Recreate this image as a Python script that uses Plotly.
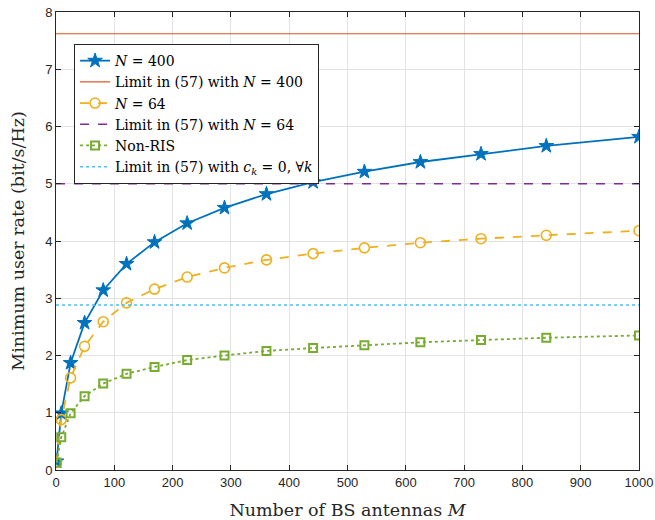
import plotly.graph_objects as go

M = [1, 9, 25, 49, 81, 121, 169, 225, 289, 361, 441, 529, 625, 729, 841, 1000]
rate_N400 = [0.15, 0.99, 1.87, 2.57, 3.14, 3.60, 3.98, 4.31, 4.58, 4.82, 5.03, 5.21, 5.38, 5.52, 5.66, 5.82]
rate_N64 = [0.13, 0.88, 1.61, 2.16, 2.59, 2.92, 3.16, 3.37, 3.53, 3.67, 3.78, 3.88, 3.97, 4.04, 4.10, 4.18]
rate_nonris = [0.13, 0.57, 0.99, 1.29, 1.51, 1.68, 1.80, 1.92, 2.00, 2.08, 2.13, 2.18, 2.23, 2.27, 2.31, 2.35]
limit_N400 = 7.62
limit_N64 = 5.0
limit_nonris = 2.88
x_range = [0, 1000]

BLUE = "#0072BD"
ORANGE = "#D95319"
YELLOW = "#EDB120"
PURPLE = "#7E2F8E"
GREEN = "#77AC30"
LBLUE = "#4DBEEE"

fig = go.Figure()
fig.add_trace(go.Scatter(x=M, y=rate_N400, mode="lines+markers", name="<i>N</i> = 400",
                         line=dict(color=BLUE, width=1.8),
                         marker=dict(symbol="star", size=11, color=BLUE, line=dict(color=BLUE, width=1))))
fig.add_trace(go.Scatter(x=x_range, y=[limit_N400, limit_N400], mode="lines", name="Limit in (57) with <i>N</i> = 400",
                         line=dict(color=ORANGE, width=1.2)))
fig.add_trace(go.Scatter(x=M, y=rate_N64, mode="lines+markers", name="<i>N</i> = 64",
                         line=dict(color=YELLOW, width=1.8, dash="dash"),
                         marker=dict(symbol="circle-open", size=10, color=YELLOW, line=dict(color=YELLOW, width=1.6))))
fig.add_trace(go.Scatter(x=x_range, y=[limit_N64, limit_N64], mode="lines", name="Limit in (57) with <i>N</i> = 64",
                         line=dict(color=PURPLE, width=1.5, dash="dash")))
fig.add_trace(go.Scatter(x=M, y=rate_nonris, mode="lines+markers", name="Non-RIS",
                         line=dict(color=GREEN, width=1.8, dash="dot"),
                         marker=dict(symbol="square-open", size=8, color=GREEN, line=dict(color=GREEN, width=2))))
fig.add_trace(go.Scatter(x=x_range, y=[limit_nonris, limit_nonris], mode="lines",
                         name="Limit in (57) with <i>c<sub>k</sub></i> = 0, ∀<i>k</i>",
                         line=dict(color=LBLUE, width=1.5, dash="dot")))

axis_common = dict(showline=True, linecolor="#262626", linewidth=1, mirror="ticks", ticks="inside",
                   ticklen=5, tickcolor="#262626", showgrid=True, gridcolor="#e3e3e3", gridwidth=1,
                   zeroline=False, automargin=False, ticklabeloverflow="allow",
                   tickfont=dict(family="Liberation Sans, Arial", size=13, color="#262626"))

title_font = dict(family="DejaVu Serif, serif", size=17.5, color="#262626")
fig.update_xaxes(range=[0, 1000], dtick=100, tick0=0,
                 title=dict(text="Number of BS antennas <i>M</i>", font=title_font, standoff=15),
                 **axis_common)
fig.update_yaxes(range=[0, 8], dtick=1, tick0=0,
                 title=dict(text="Minimum user rate (bit/s/Hz)", font=title_font, standoff=16),
                 **axis_common)

fig.update_layout(
    width=655, height=520,
    margin=dict(l=56, r=16, t=12, b=50),
    paper_bgcolor="white", plot_bgcolor="white",
    legend=dict(x=0.031, y=0.93, xanchor="left", yanchor="top",
                bgcolor="white", bordercolor="#262626", borderwidth=1,
                font=dict(family="DejaVu Serif, serif", size=14, color="#000000"),
                tracegroupgap=0, itemwidth=30),
    showlegend=True,
)

# remove the browser's default body margin so the figure fills the window exactly
fig.write_html("out.html", config={"displayModeBar": False},
               post_script="document.body.style.margin='0';document.body.style.overflow='hidden';")
